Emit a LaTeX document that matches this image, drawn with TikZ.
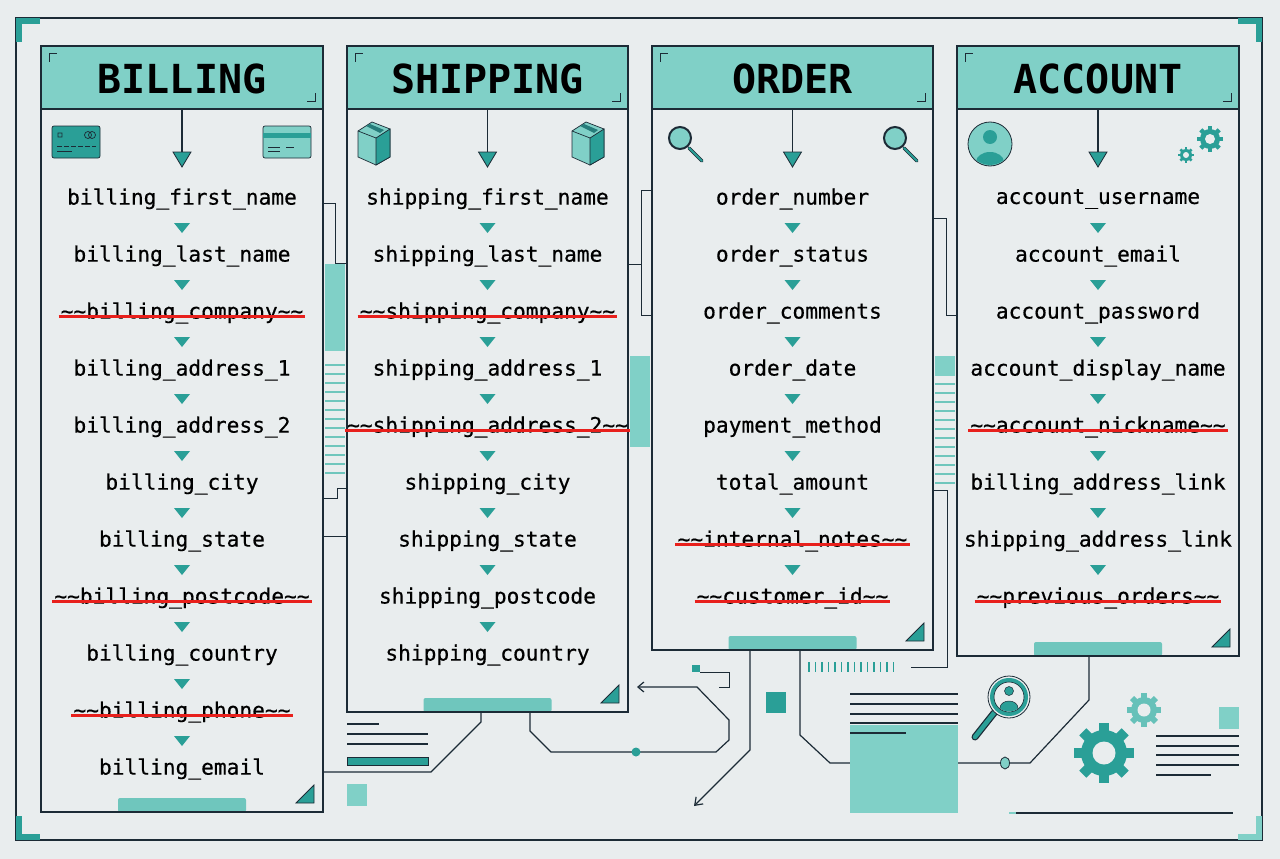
\documentclass[tikz,border=0pt]{standalone}
\usepackage{fontspec}
\newfontfamily\mono[FakeBold=0.5]{DejaVu Sans Mono}
\newfontfamily\monob{DejaVu Sans Mono}
\usetikzlibrary{calc,arrows.meta,shapes.geometric}
\definecolor{bg}{HTML}{E9EDEE}
\definecolor{ink}{HTML}{1C2B36}
\definecolor{tealL}{HTML}{80D0C7}
\definecolor{tealD}{HTML}{2A9F97}
\definecolor{strk}{HTML}{E8201C}
\newcommand{\fieldfont}{\mono\fontsize{21.2}{22}\selectfont}
\newcommand{\titlefont}{\monob\bfseries\fontsize{40}{41}\selectfont}
\tikzset{
  frame/.style={draw=ink, line width=1.4pt},
  fld/.style={font=\fieldfont, text=black, inner sep=0pt, anchor=center},
  ttl/.style={font=\titlefont, text=black, inner sep=0pt},
  wire/.style={draw=ink, line width=1.2pt},
}
% \mkpanel{name}{x0}{x1}{bottom}{title}{list}
\newcommand{\mkpanel}[6]{%
  \pgfmathsetmacro{\cx}{(#2+#3)/2}
  \fill[bg] (#2,46) rectangle (#3,#4);
  \fill[tealL] (#2,46) rectangle (#3,109);
  \draw[frame] (#2,46) rectangle (#3,#4);
  \draw[frame] (#2,109) -- (#3,109);
  \node[ttl] (#1-title) at (\cx,79) {#5};
  \draw[ink, line width=1pt] (#2+8,62) -- (#2+8,54) -- (#2+16,54);
  \draw[ink, line width=1pt] (#3-8,93) -- (#3-8,101) -- (#3-16,101);
  \coordinate (#1-top) at (\cx,109);
  \coordinate (#1-in) at (\cx,152);
  \draw[wire] (#1-top) -- (#1-in);
  \filldraw[fill=tealD, draw=ink, line width=0.8pt] (\cx-9,152) -- (\cx+9,152) -- (\cx,167) -- cycle;
  \foreach \t/\s [count=\i] in {#6} {
    \pgfmathsetmacro{\yy}{199+57*(\i-1)}
    \node[fld] (#1-\i) at (\cx,\yy) {\t};
    \ifnum\s=1 \draw[strk, line width=3pt] ($(#1-\i.west)+(-2,3)$) -- ($(#1-\i.east)+(2,3)$); \fi
  }
  \fill[tealL!80!tealD] (\cx-64,#4-14) [rounded corners=2pt] -- (\cx-64,#4) -- (\cx+64,#4) -- (\cx+64,#4-14) -- cycle;
  \draw[frame] (#2,#4) -- (#3,#4);
  \filldraw[fill=tealD, draw=ink, line width=0.8pt] (#3-9,#4-9) -- (#3-27,#4-9) -- (#3-9,#4-27) -- cycle;
}
\newcommand{\mktri}[2]{\fill[tealD] (#1-8,#2-5) -- (#1+8,#2-5) -- (#1,#2+5) -- cycle;}
\newcommand{\mkgear}[4]{%
  \foreach \a in {0,45,...,315}
    \fill[#4, rotate around={\a:(#1,#2)}] (#1-0.22*#3,#2-1.3*#3) rectangle (#1+0.22*#3,#2);
  \fill[#4] (#1,#2) circle (#3);
  \fill[bg] (#1,#2) circle (0.5*#3);
}
\begin{document}
\begin{tikzpicture}[x=1pt,y=-1pt]
\useasboundingbox (0,0) rectangle (1280,859);
\fill[bg] (0,0) rectangle (1280,859);
% outer frame
\draw[ink, line width=1.2pt] (16,18) rectangle (1262,840);
\fill[tealD] (16,18) rectangle (40,24); \fill[tealD] (16,18) rectangle (22,42);
\fill[tealD] (1262,18) rectangle (1238,24); \fill[tealD] (1262,18) rectangle (1256,42);
\fill[tealD] (16,840) rectangle (40,834); \fill[tealD] (16,840) rectangle (22,816);
\fill[tealL] (1262,840) rectangle (1238,834); \fill[tealL] (1262,840) rectangle (1256,816);

% panels
\mkpanel{bil}{41}{323}{812}{BILLING}{billing\_first\_name/0,billing\_last\_name/0,\textasciitilde\textasciitilde billing\_company\textasciitilde\textasciitilde/1,billing\_address\_1/0,billing\_address\_2/0,billing\_city/0,billing\_state/0,\textasciitilde\textasciitilde billing\_postcode\textasciitilde\textasciitilde/1,billing\_country/0,\textasciitilde\textasciitilde billing\_phone\textasciitilde\textasciitilde/1,billing\_email/0}
\mkpanel{shp}{347}{628}{712}{SHIPPING}{shipping\_first\_name/0,shipping\_last\_name/0,\textasciitilde\textasciitilde shipping\_company\textasciitilde\textasciitilde/1,shipping\_address\_1/0,\textasciitilde\textasciitilde shipping\_address\_2\textasciitilde\textasciitilde/1,shipping\_city/0,shipping\_state/0,shipping\_postcode/0,shipping\_country/0}
\mkpanel{ord}{652}{933}{650}{ORDER}{order\_number/0,order\_status/0,order\_comments/0,order\_date/0,payment\_method/0,total\_amount/0,\textasciitilde\textasciitilde internal\_notes\textasciitilde\textasciitilde/1,\textasciitilde\textasciitilde customer\_id\textasciitilde\textasciitilde/1}
\mkpanel{acc}{957}{1239}{656}{ACCOUNT}{account\_username/0,account\_email/0,account\_password/0,account\_display\_name/0,\textasciitilde\textasciitilde account\_nickname\textasciitilde\textasciitilde/1,billing\_address\_link/0,shipping\_address\_link/0,\textasciitilde\textasciitilde previous\_orders\textasciitilde\textasciitilde/1}

% small triangles between fields
\foreach \n in {1,...,10} {\pgfmathsetmacro{\yy}{228+57*(\n-1)} \mktri{182}{\yy}}
\foreach \n in {1,...,8} {\pgfmathsetmacro{\yy}{228+57*(\n-1)} \mktri{487.5}{\yy}}
\foreach \n in {1,...,7} {\pgfmathsetmacro{\yy}{228+57*(\n-1)} \mktri{792.5}{\yy}\mktri{1098}{\yy}}

% icons: billing cards
\filldraw[fill=tealD, draw=ink, line width=0.7pt, rounded corners=2pt] (52,126) rectangle (100,158);
\draw[ink, line width=0.7pt] (58,133) rectangle (62,137) (88,135) circle (3.5) (92,135) circle (3.5);
\draw[ink, line width=0.8pt, dash pattern=on 5pt off 2pt] (57,146) -- (96,146);
\draw[ink, line width=0.8pt] (57,151) -- (72,151);
\filldraw[fill=tealL, draw=ink, line width=0.7pt, rounded corners=2pt] (263,126) rectangle (311,158);
\fill[tealD] (263,133) rectangle (311,138);
\draw[ink, line width=0.8pt] (268,147) -- (280,147) (286,147) -- (294,147) (268,151) -- (280,151);
% shipping boxes
\foreach \bx in {374,588} {
  \filldraw[fill=tealL, draw=ink, line width=0.7pt] (\bx-16,131) -- (\bx-2,122) -- (\bx+16,129) -- (\bx+16,157) -- (\bx+2,165) -- (\bx-16,157) -- cycle;
  \filldraw[fill=tealD, draw=ink, line width=0.7pt] (\bx+2,138) -- (\bx+16,129) -- (\bx+16,157) -- (\bx+2,165) -- cycle;
  \draw[ink, line width=0.7pt] (\bx-16,131) -- (\bx+2,138);
  \fill[tealD!70!ink] (\bx-8,126) -- (\bx-4,124) -- (\bx+10,130) -- (\bx+6,133) -- cycle;
}
% order magnifiers
\foreach \mx in {680,895} {
  \draw[ink, line width=3.5pt, line cap=round] (\mx+9,148) -- (\mx+22,161);
  \draw[tealD, line width=2pt, line cap=round] (\mx+9,148) -- (\mx+22,161);
  \filldraw[fill=tealL, draw=ink, line width=2pt] (\mx,138) circle (11);
}
% account person
\begin{scope}
  \filldraw[fill=tealL, draw=ink, line width=0.8pt] (990,144) circle (22);
  \clip (990,144) circle (21);
  \fill[tealD] (990,137) circle (7);
  \fill[tealD] (990,162) ellipse (14 and 10);
\end{scope}
% account gears
\mkgear{1210}{139}{10}{tealD}
\mkgear{1186}{155}{6}{tealD}

% gap decorations billing-shipping
\draw[wire, line width=1pt] (323,203) -- (335,203) -- (335,263) -- (347,263);
\fill[tealL] (325,264) rectangle (345,351);
\foreach \k in {0,...,12} \draw[tealL!80!tealD, line width=1.1pt] (325,365+9*\k) -- (345,365+9*\k);
\draw[wire, line width=1pt] (347,488) -- (337,488) -- (337,498) -- (323,498);
\draw[wire, line width=1pt] (323,536) -- (347,536);
% shipping-order
\draw[wire, line width=1pt] (652,190) -- (641,190) -- (641,315) -- (652,315);
\draw[wire, line width=1pt] (628,264) -- (641,264);
\fill[tealL] (630,356) rectangle (650,447);
% order-account
\draw[wire, line width=1pt] (933,218) -- (946,218) -- (946,315) -- (957,315);
\fill[tealL] (935,356) rectangle (955,376);
\foreach \k in {0,...,11} \draw[tealL!80!tealD, line width=1.1pt] (935,384+9*\k) -- (955,384+9*\k);
\draw[wire, line width=1pt] (933,490) -- (947,490) -- (947,667) -- (911,667);

% bottom wiring
\coordinate (b1) at (481,712);
\coordinate (b2) at (530,712);
\coordinate (o1) at (750,650);
\coordinate (o2) at (800,650);
\coordinate (a1) at (1089,656);
\draw[wire] (b1) -- (481,722) -- (431,772) -- (323,772);
\draw[wire, -{Straight Barb[length=6pt,width=10pt]}] (b2) -- (530,731) -- (551,752) -- (716,752) -- (729,740) -- (729,720) -- (697,687) -- (637,687);
\node[circle, fill=tealD, inner sep=0pt, minimum size=9pt] (dot1) at (636,752) {};
\fill[tealD] (692,665) rectangle (700,672);
\draw[wire, line width=1pt] (700,672) -- (729,672) -- (729,687) -- (719,687);
\fill[tealD] (766,692) rectangle (786,713);
\draw[wire, -{Straight Barb[length=7pt,width=10pt]}] (o1) -- (750,750) -- (694,806);
\draw[wire] (o2) -- (800,735) -- (830,763) -- (1030,763) -- (1089,700) -- (a1);
\node[ellipse, draw=ink, fill=tealL, line width=0.8pt, inner sep=0pt, minimum width=9pt, minimum height=12pt] (dot2) at (1005,763) {};
\foreach \k in {0,...,13} \draw[tealD, line width=1.5pt] (809+6.5*\k,662) -- (809+6.5*\k,672);
\fill[tealL] (850,725) rectangle (958,813);
\foreach \yy in {694,704,714,723} \draw[ink, line width=1.2pt] (850,\yy) -- (958,\yy);
\draw[ink, line width=1.2pt] (850,733) -- (906,733);
% magnifier with person
\draw[ink, line width=7pt, line cap=round] (994,713) -- (975,737);
\draw[tealD, line width=4.5pt, line cap=round] (994,713) -- (975,737);
\filldraw[fill=bg, draw=ink, line width=0.8pt] (1009,697) circle (21);
\filldraw[fill=bg, draw=tealD, line width=4pt] (1009,697) circle (17);
\draw[ink, line width=0.6pt] (1009,697) circle (15);
\begin{scope}
  \clip (1009,697) circle (14.5);
  \filldraw[fill=tealD, draw=ink, line width=0.5pt] (1009,691) circle (4.5);
  \filldraw[fill=tealD, draw=ink, line width=0.5pt] (1009,708) ellipse (9 and 7);
\end{scope}
% gears
\mkgear{1144}{710}{13}{tealL!70!tealD}
\mkgear{1104}{753}{23}{tealD}
\fill[tealL] (1219,707) rectangle (1239,729);
\foreach \yy in {736,746,755,765} \draw[ink, line width=1.2pt] (1156,\yy) -- (1239,\yy);
\draw[ink, line width=1.2pt] (1156,775) -- (1211,775);
\draw[ink, line width=1.2pt] (1016,813) -- (1233,813);
\draw[tealL, line width=1.2pt] (1009,813) -- (1016,813);
% left-bottom small items
\draw[ink, line width=1.2pt] (347,724) -- (379,724);
\draw[ink, line width=1.2pt] (347,734) -- (428,734) (347,744) -- (428,744);
\filldraw[fill=tealD, draw=ink, line width=0.8pt] (347,757) rectangle (428,765);
\fill[tealL] (347,784) rectangle (367,806);
\end{tikzpicture}
\end{document}
